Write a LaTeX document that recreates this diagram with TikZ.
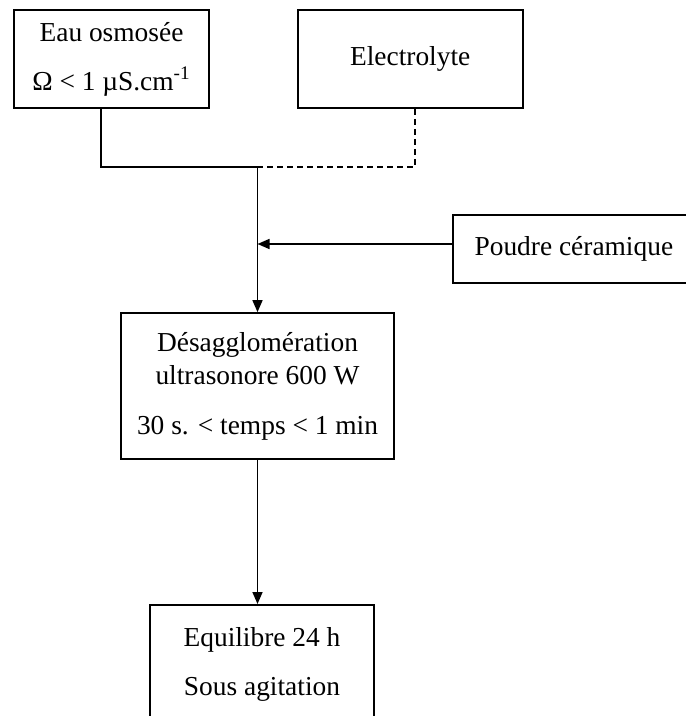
\documentclass[tikz,border=0pt]{standalone}
\usepackage{fontspec}
\setmainfont{Liberation Serif}
\usetikzlibrary{arrows.meta, positioning, calc}

\begin{document}
\begin{tikzpicture}[
    x=1pt, y=1pt,
    box/.style={rectangle, draw=black, line width=0.85pt, align=center, inner sep=0pt, font=\fontsize{13.7}{16.5}\selectfont},
    link/.style={line width=0.8pt},
    arrow/.style={-{Triangle[length=6pt, width=5pt]}, line width=0.8pt},
    dotted link/.style={line width=0.8pt, dash pattern=on 3pt off 2pt}
]
\useasboundingbox (0,0) rectangle (342.5,-358);

% Starting products
\node[box, minimum width=97.5pt, minimum height=49pt] (eau) at (55.75,-29.5) {Eau osmosée\\[8pt]Ω < 1 µS.cm\textsuperscript{-1}};
\node[box, minimum width=112.5pt, minimum height=49pt, right=43.5pt of eau] (elec) {Electrolyte};
\node[box, minimum width=121pt, minimum height=34pt, anchor=west] (poudre) at (226,-124.5) {Poudre céramique};

% Process steps
\node[box, minimum width=136.5pt, minimum height=73pt] (desag) at (128.75,-193) {Désagglomération\\ultrasonore 600 W\\[8.5pt]30 s. < temps < 1 min};
\node[box, minimum width=112pt, minimum height=60pt, anchor=north] (equil) at (131,-302) {Equilibre 24 h\\[8pt]Sous agitation};

% Junction points
\coordinate (mix) at (128.75,-83.5);
\coordinate (feed) at (128.75,-122);

% Connectors
\draw[link] ([xshift=-5.25pt]eau.south) |- (mix);
\draw[dotted link] ([xshift=2.25pt]elec.south) |- (mix);
\draw[arrow] (mix) -- (desag.north);
\draw[arrow] (poudre.west |- feed) -- (feed);
\draw[arrow] (desag.south) -- (desag.south |- equil.north);

\end{tikzpicture}
\end{document}
